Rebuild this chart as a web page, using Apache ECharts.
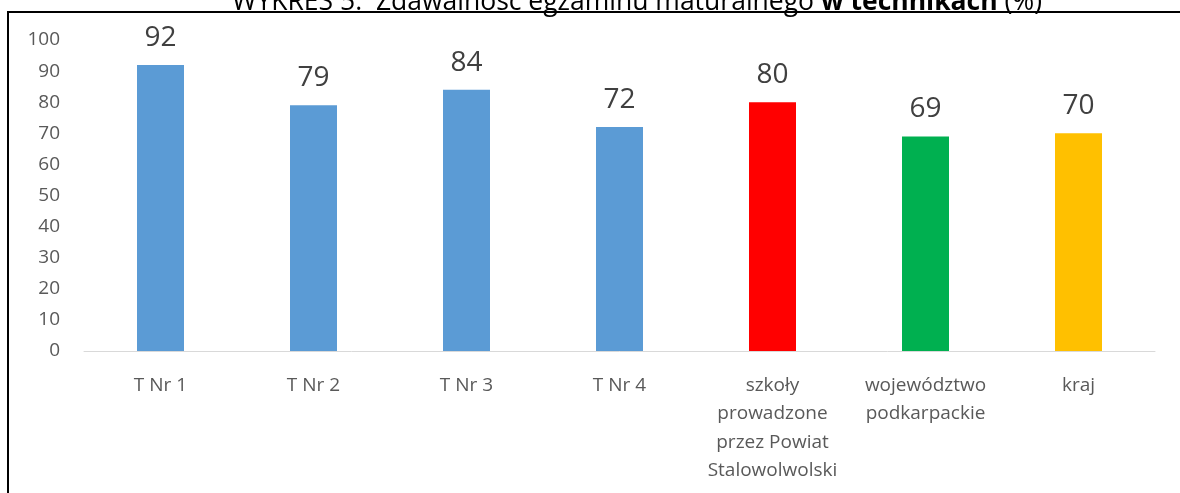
<!DOCTYPE html>
<html>
<head>
<meta charset="utf-8">
<script src="https://cdn.jsdelivr.net/npm/echarts@6/dist/echarts.min.js"></script>
<style>
  html, body { margin: 0; padding: 0; background: #fff; }
  #chart { width: 1180px; height: 493px; }
</style>
</head>
<body>
<div id="chart"></div>
<script>
// dane wykresu
var categories = ["T Nr 1", "T Nr 2", "T Nr 3", "T Nr 4",
  "szkoły\nprowadzone\nprzez Powiat\nStalowolwolski", "województwo\npodkarpackie", "kraj"];
var values = [92, 79, 84, 72, 80, 69, 70];
var barColors = ["#5B9BD5", "#5B9BD5", "#5B9BD5", "#5B9BD5", "#FF0000", "#00B050", "#FFC000"];
var yTicks = [0, 100, 10]; // min, max, interval

var chart = echarts.init(document.getElementById("chart"));
var option = {
  animation: false,
  title: {
    text: "{n|WYKRES 5.  Zdawalność egzaminu maturalnego }{b|w technikach}{n| (%)}",
    left: 227,
    top: -16,
    textStyle: {
      rich: {
        n: { fontFamily: "Open Sans", fontSize: 26.5, color: "#000", fontWeight: "normal" },
        b: { fontFamily: "Open Sans", fontSize: 26.5, color: "#000", fontWeight: "bold" }
      }
    }
  },
  grid: { left: 84, right: 25, top: 40, bottom: 142, containLabel: false },
  xAxis: {
    type: "category",
    data: categories,
    axisLine: { lineStyle: { color: "#D9D9D9", width: 1 } },
    axisTick: { show: false },
    axisLabel: {
      interval: 0,
      color: "#595959",
      fontFamily: "Open Sans",
      fontSize: 19,
      lineHeight: 28.5,
      margin: 20
    }
  },
  yAxis: {
    type: "value",
    min: yTicks[0],
    max: yTicks[1],
    interval: yTicks[2],
    splitLine: { show: false },
    axisLine: { show: false },
    axisTick: { show: false },
    axisLabel: { color: "#595959", fontFamily: "Open Sans", fontSize: 19, margin: 24 }
  },
  series: [{
    type: "bar",
    barWidth: 47,
    data: values.map(function (v, i) {
      return { value: v, itemStyle: { color: barColors[i] } };
    }),
    label: {
      show: true,
      position: "top",
      distance: 13,
      color: "#404040",
      fontFamily: "Open Sans",
      fontSize: 28
    }
  }],
  graphic: [
    { type: "line", shape: { x1: 8, y1: 11, x2: 8, y2: 493 }, style: { stroke: "#000", lineWidth: 2 } },
    { type: "line", shape: { x1: 7, y1: 12, x2: 1180, y2: 12 }, style: { stroke: "#000", lineWidth: 2 } }
  ]
};
chart.setOption(option);
</script>
</body>
</html>
